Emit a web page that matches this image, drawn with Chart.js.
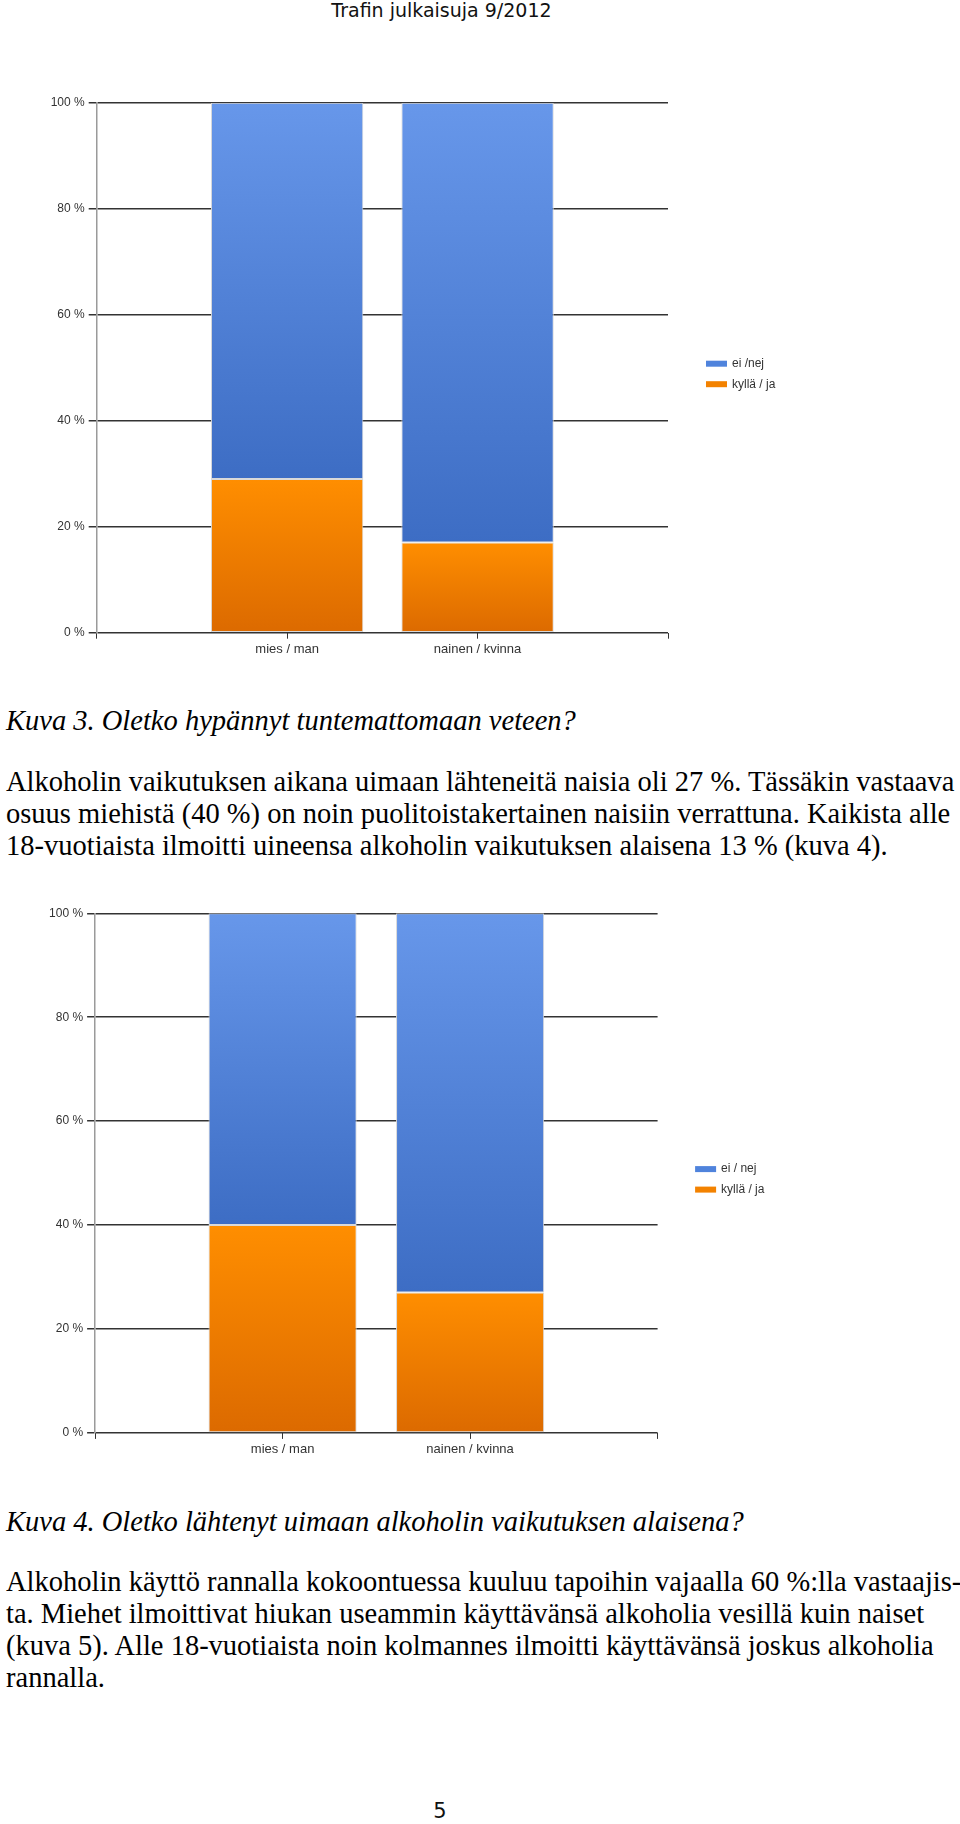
<!DOCTYPE html>
<html>
<head>
<meta charset="utf-8">
<script src="https://cdn.jsdelivr.net/npm/chart.js@4.4.1/dist/chart.umd.min.js"></script>
<style>
html,body{margin:0;padding:0;background:#fff;}
#page{position:relative;width:960px;height:1824px;overflow:hidden;background:#fff;}
.hdr{position:absolute;left:0;width:883px;top:0.6px;text-align:center;font-family:"DejaVu Sans",sans-serif;font-size:19px;line-height:19px;color:#111;white-space:nowrap;}
.t{position:absolute;left:6px;font-family:"Liberation Serif","Times New Roman",serif;font-size:28.5px;line-height:32px;white-space:nowrap;color:#000;}
.i{font-style:italic;}
.pg{position:absolute;left:0;width:880px;top:1800.5px;text-align:center;font-family:"DejaVu Sans",sans-serif;font-size:21px;line-height:21px;color:#111;}
.cw{position:absolute;left:0;}
</style>
</head>
<body>
<div id="page">
  <div class="hdr">Trafin julkaisuja 9/2012</div>

  <div class="cw" style="top:80px;"><canvas id="c1" width="960" height="600"></canvas></div>

  <div class="t i" style="top:705.4px;">Kuva 3. Oletko hypännyt tuntemattomaan veteen?</div>
  <div class="t" style="top:766px;">
    <div>Alkoholin vaikutuksen aikana uimaan lähteneitä naisia oli 27 %. Tässäkin vastaava</div>
    <div>osuus miehistä (40 %) on noin puolitoistakertainen naisiin verrattuna. Kaikista alle</div>
    <div>18-vuotiaista ilmoitti uineensa alkoholin vaikutuksen alaisena 13 % (kuva 4).</div>
  </div>

  <div class="cw" style="top:890px;"><canvas id="c2" width="960" height="600"></canvas></div>

  <div class="t i" style="top:1506.4px;">Kuva 4. Oletko lähtenyt uimaan alkoholin vaikutuksen alaisena?</div>
  <div class="t" style="top:1566.4px;line-height:31.7px;">
    <div>Alkoholin käyttö rannalla kokoontuessa kuuluu tapoihin vajaalla 60 %:lla vastaajis-</div>
    <div>ta. Miehet ilmoittivat hiukan useammin käyttävänsä alkoholia vesillä kuin naiset</div>
    <div>(kuva 5). Alle 18-vuotiaista noin kolmannes ilmoitti käyttävänsä joskus alkoholia</div>
    <div>rannalla.</div>
  </div>

  <div class="pg">5</div>
</div>

<script>
// ---- data ----
const categories = ['mies / man', 'nainen / kvinna'];
const kuva3Kylla = [29, 17];   // kyllä / ja (%)
const kuva3Ei    = [71, 83];   // ei / nej (%)
const kuva4Kylla = [40, 27];
const kuva4Ei    = [60, 73];
const kuva3Series = ['kyllä / ja', 'ei /nej'];
const kuva4Series = ['kyllä / ja', 'ei / nej'];
const yTickLabels = ['0 %', '20 %', '40 %', '60 %', '80 %', '100 %'];

// ---- styling ----
const ORANGE = {top: '#ff8e00', bottom: '#dc6a00', solid: '#f38200'};
const BLUE   = {top: '#6797ea', bottom: '#3d6dc4', solid: '#4f83dc'};

Chart.defaults.font.family = '"Liberation Sans", Arial, sans-serif';
Chart.defaults.color = '#333';
Chart.defaults.animation = false;

function padded(arr) { return [null, ...arr, null]; }

function gradientFor(pal) {
  return function (c) {
    if (c.type !== 'data') return pal.solid;
    const chart = c.chart;
    const y = chart.scales && chart.scales.y;
    if (!chart.chartArea || !y) return pal.solid;
    const i = c.dataIndex;
    let base = 0;
    for (let d = 0; d < c.datasetIndex; d++) {
      const v = chart.data.datasets[d].data[i];
      if (v != null) base += v;
    }
    const v = chart.data.datasets[c.datasetIndex].data[i];
    if (v == null) return pal.solid;
    const yTop = y.getPixelForValue(base + v);
    const yBot = y.getPixelForValue(base);
    if (!isFinite(yTop) || !isFinite(yBot) || yTop === yBot) return pal.solid;
    const g = chart.ctx.createLinearGradient(0, yTop, 0, yBot);
    g.addColorStop(0, pal.top);
    g.addColorStop(1, pal.bottom);
    return g;
  };
}

const sideLegend = {
  id: 'sideLegend',
  afterDraw(chart, args, opts) {
    const ctx = chart.ctx;
    const a = chart.chartArea;
    const mid = (a.top + a.bottom) / 2;
    const x = a.right + opts.dx;
    const ds = chart.data.datasets.slice().reverse();
    ctx.save();
    ctx.font = '12px "Liberation Sans", Arial, sans-serif';
    ctx.textBaseline = 'middle';
    ctx.textAlign = 'left';
    ds.forEach((d, k) => {
      const cy = mid + opts.dy + k * opts.gap;
      ctx.fillStyle = d.legendColor;
      ctx.fillRect(x, cy - 3, 21, 6);
      ctx.fillStyle = '#333';
      ctx.fillText(d.label, x + 26, cy);
    });
    ctx.restore();
  }
};

function makeChart(id, kylla, ei, names, g) {
  return new Chart(document.getElementById(id), {
    type: 'bar',
    data: {
      labels: ['', ...categories, ''],
      datasets: [
        {label: names[0], data: padded(kylla), backgroundColor: gradientFor(ORANGE), legendColor: ORANGE.solid,
         borderColor: '#d9d9d9', borderWidth: 1, borderSkipped: false},
        {label: names[1], data: padded(ei), backgroundColor: gradientFor(BLUE), legendColor: BLUE.solid,
         borderColor: '#d9d9d9', borderWidth: 1, borderSkipped: false}
      ]
    },
    options: {
      responsive: false,
      animation: false,
      events: [],
      categoryPercentage: g.barFrac,
      barPercentage: 1.0,
      layout: {padding: {top: g.padTop, right: g.padRight, left: 0, bottom: 0}},
      plugins: {
        legend: {display: false},
        tooltip: {enabled: false},
        sideLegend: {dx: g.legendDx, dy: -4, gap: 20.5}
      },
      scales: {
        x: {
          type: 'category',
          stacked: true,
          offset: false,
          grid: {offset: false, drawOnChartArea: false, drawTicks: true, tickLength: 6, color: '#333', lineWidth: 1},
          border: {display: false},
          ticks: {autoSkip: false, maxRotation: 0, minRotation: 0, padding: 3, font: {size: 13}, color: '#333'},
          afterFit(s) { s.height = g.xAxisHeight; }
        },
        y: {
          stacked: true,
          min: 0,
          max: 100,
          grid: {color: '#333', lineWidth: 1.5, tickLength: 8, drawTicks: true},
          border: {display: true, color: '#9a9a9a', width: 1.5},
          ticks: {stepSize: 20, padding: 4, font: {size: 12}, color: '#333',
                  callback: (v, i) => yTickLabels[i]},
          afterFit(s) { s.width = g.yAxisWidth; }
        }
      }
    },
    plugins: [sideLegend]
  });
}

makeChart('c1', kuva3Kylla, kuva3Ei, kuva3Series,
  {yAxisWidth: 96.7, xAxisHeight: 47.3, padTop: 22.7, padRight: 292, barFrac: 0.8, legendDx: 38});
makeChart('c2', kuva4Kylla, kuva4Ei, kuva4Series,
  {yAxisWidth: 95.1, xAxisHeight: 57.1, padTop: 23.3, padRight: 302.4, barFrac: 0.79, legendDx: 37.5});
</script>
</body>
</html>
